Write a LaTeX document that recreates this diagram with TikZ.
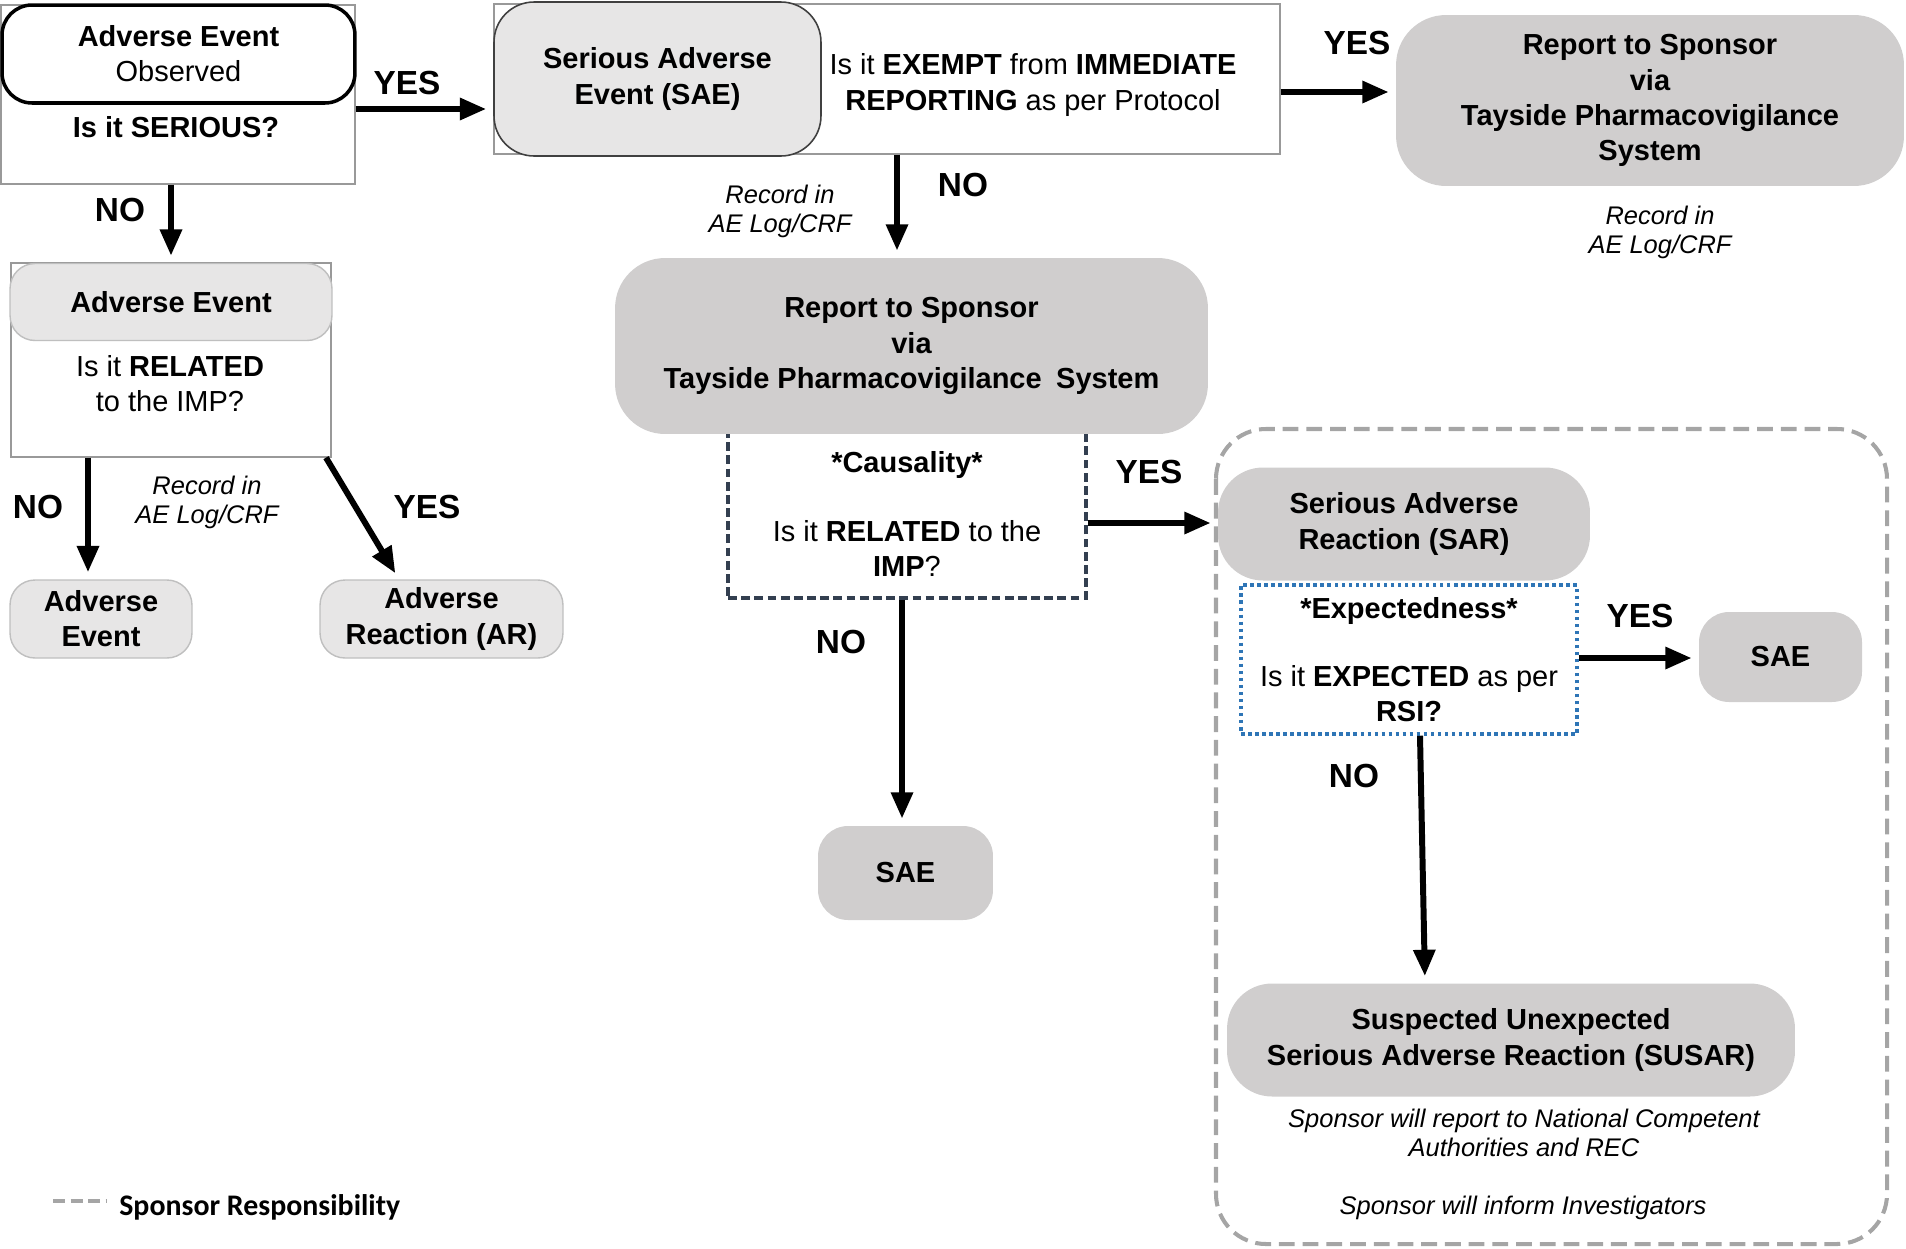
\documentclass[tikz,border=0pt]{standalone}
\usepackage{fontspec}
\setmainfont{Liberation Sans}
\newfontfamily\legendfont{Carlito}
\usepackage{tikz}
\usetikzlibrary{%
  positioning
 ,arrows.meta
 ,calc
 ,shapes
}
\definecolor{lightfill}{HTML}{E7E6E6}
\definecolor{darkfill}{HTML}{D0CECE}
\definecolor{sponsorgray}{HTML}{A5A5A5}
\definecolor{causalcol}{HTML}{333F50}
\definecolor{expectblue}{HTML}{2E75B6}
\tikzstyle{flow}=[x=0.02cm,y=-0.02cm,font=\fontsize{16.5}{20}\selectfont,inner sep=0pt,align=center]
\tikzstyle{qbox}=[draw=black!40,line width=0.8pt,fill=white]
\tikzstyle{lt}=[rounded corners=0.5cm,fill=lightfill,draw=black!25,line width=0.8pt,font=\fontsize{16.5}{20}\selectfont\bfseries]
\tikzstyle{dk}=[rounded corners=1cm,fill=darkfill,font=\fontsize{16.5}{20}\selectfont\bfseries]
\tikzstyle{arr}=[line width=3.4pt,-{Triangle[length=15pt,width=12pt]},shorten >=4pt]
\tikzstyle{yn}=[font=\fontsize{19}{22}\selectfont\bfseries]
\tikzstyle{rec}=[font=\fontsize{14.5}{16.5}\selectfont\itshape]
\tikzstyle{sponsor}=[draw=sponsorgray,line width=2.3pt,dash pattern=on 9pt off 4.5pt]

\begin{document}
\begin{tikzpicture}[flow]
  \useasboundingbox (0,0) rectangle (1906,1248);
% serious?
  \node[qbox,minimum width=7.08cm,minimum height=3.58cm] (q_0) at (178,94.5) {};
  \node[draw,line width=2pt,rounded corners=0.6cm,fill=white,minimum width=7.06cm,minimum height=1.96cm] (ae_0) at (178.5,54) {\textbf{Adverse Event}\\Observed};
  \node (q_0t) at (176,127) {\textbf{Is it SERIOUS?}};
% exempt?
  \node[qbox,minimum width=15.72cm,minimum height=3cm] (q_1) at (887,79) {};
  \node[lt,draw=black!75,line width=0.9pt,rounded corners=0.8cm,minimum width=6.54cm,minimum height=3.08cm] (sae_0) at (657.5,79) {Serious Adverse\\Event (SAE)};
  \node (q_1t) at (1033,85) {Is it \textbf{EXEMPT} from \textbf{IMMEDIATE}\\\textbf{REPORTING} as per Protocol};
  \node[dk,minimum width=10.16cm,minimum height=3.42cm] (rep_0) at (1650,100.5) {Report to Sponsor\\via\\Tayside Pharmacovigilance\\System};
  \node[rec] (rec_0) at (1660,232) {Record in\\AE Log/CRF};
% causality
  \node[draw=causalcol,line width=1.8pt,dash pattern=on 5pt off 2.5pt,minimum width=7.16cm,minimum height=3.36cm] (q_2) at (907,514) {\textbf{*Causality*}\\[19pt]Is it \textbf{RELATED} to the\\\textbf{IMP}?};
  \node[dk,minimum width=11.86cm,minimum height=3.52cm] (rep_1) at (911.5,346) {Report to Sponsor\\via\\Tayside Pharmacovigilance\enspace System};
  \node[rec] (rec_1) at (780,211) {Record in\\AE Log/CRF};
  \node[dk,rounded corners=0.6cm,minimum width=3.5cm,minimum height=1.88cm] (sae_1) at (905.5,873) {SAE};
% sponsor responsibility
  \draw[sponsor,rounded corners=1cm] (1216,429) rectangle (1887,1244);
  \node[dk,rounded corners=0.9cm,minimum width=7.44cm,minimum height=2.26cm] (sar_0) at (1404,524) {Serious Adverse\\Reaction (SAR)};
  \node[draw=expectblue,line width=2pt,dash pattern=on 2pt off 2pt,minimum width=6.72cm,minimum height=2.98cm] (q_3) at (1409,659.5) {\textbf{*Expectedness*}\\[19pt]Is it \textbf{EXPECTED} as per\\\textbf{RSI?}};
  \node[dk,rounded corners=0.6cm,minimum width=3.26cm,minimum height=1.8cm] (sae_2) at (1780.5,657) {SAE};
  \node[dk,rounded corners=0.9cm,minimum width=11.36cm,minimum height=2.26cm] (susar_0) at (1511,1040) {Suspected Unexpected\\Serious Adverse Reaction (SUSAR)};
  \node[rec] (note_0) at (1524,1133) {Sponsor will report to National Competent\\Authorities and REC};
  \node[rec] (note_1) at (1523,1208) {Sponsor will inform Investigators};
% related?
  \node[qbox,minimum width=6.4cm,minimum height=3.88cm] (q_4) at (171,360) {};
  \node[lt,minimum width=6.44cm,minimum height=1.54cm] (ae_1) at (171,302) {Adverse Event};
  \node (q_4t) at (170,384) {Is it \textbf{RELATED}\\to the IMP?};
  \node[lt,minimum width=3.64cm,minimum height=1.56cm] (ae_2) at (101,619) {Adverse\\Event};
  \node[lt,minimum width=4.86cm,minimum height=1.56cm] (ar_0) at (441.5,619) {Adverse\\Reaction (AR)};
  \node[rec] (rec_2) at (207,502) {Record in\\AE Log/CRF};
% 
  \draw[arr] (q_0.east |- 0,109) -- (sae_0.west |- 0,109);
  \draw[arr] (q_1.east |- 0,92) -- (rep_0.west |- 0,92);
  \draw[arr] (q_1.south -| 897,0) -- (rep_1.north -| 897,0);
  \draw[arr] (q_2.east |- 0,523) -- (sar_0.west |- 0,523);
  \draw[arr] (q_2.south -| 902,0) -- (sae_1.north -| 902,0);
  \draw[arr] (q_3.east |- 0,658) -- (sae_2.west |- 0,658);
  \draw[arr] (q_3.south -| 1420,0) -- (susar_0.north -| 1425,0);
  \draw[arr] (q_0.south -| 171,0) -- (ae_1.north -| 171,0);
  \draw[arr] (q_4.south -| 88,0) -- (ae_2.north -| 88,0);
  \draw[arr] (q_4.south -| 326,0) -- (ar_0.north -| 399,0);
% 
  \node[yn] (yes_0) at (407,83) {YES};
  \node[yn] (yes_1) at (1357,43) {YES};
  \node[yn] (no_0) at (963,185) {NO};
  \node[yn] (yes_2) at (1149,472) {YES};
  \node[yn] (no_1) at (841,642) {NO};
  \node[yn] (yes_3) at (1640,616) {YES};
  \node[yn] (no_2) at (1354,776) {NO};
  \node[yn] (no_3) at (120,210) {NO};
  \node[yn] (no_4) at (38,507) {NO};
  \node[yn] (yes_4) at (427,507) {YES};
% legend
  \draw[sponsor,dash pattern=on 7pt off 3pt] (53,1201) -- (107,1201);
  \node[anchor=west,font=\legendfont\fontsize{17}{20}\selectfont\bfseries] (legend_0) at (119,1207) {Sponsor Responsibility};
\end{tikzpicture}
\end{document}
